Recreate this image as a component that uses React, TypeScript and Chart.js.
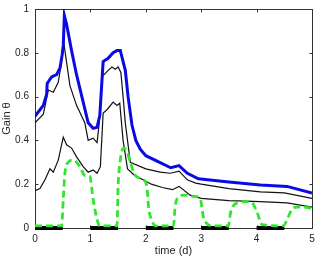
import React, { useEffect, useRef } from "react";
import { Chart, registerables } from "chart.js";

Chart.register(...registerables);

// Upper gain estimate (thick blue)
const upperTime = [0, 0.15, 0.21, 0.22, 0.3, 0.39, 0.45, 0.49, 0.51, 0.53, 0.57, 0.66, 0.75, 0.87, 0.96, 1.05, 1.12, 1.17, 1.23, 1.32, 1.41, 1.48, 1.54, 1.57, 1.63, 1.68, 1.75, 1.82, 1.9, 2.0, 2.25, 2.45, 2.6, 2.75, 2.95, 3.5, 4.07, 4.55, 5.0];
const upperGain = [0.51, 0.56, 0.61, 0.66, 0.69, 0.70, 0.73, 0.79, 0.835, 0.97, 0.93, 0.81, 0.70, 0.575, 0.48, 0.455, 0.46, 0.515, 0.76, 0.775, 0.80, 0.81, 0.81, 0.78, 0.72, 0.60, 0.47, 0.40, 0.36, 0.33, 0.30, 0.275, 0.285, 0.25, 0.225, 0.21, 0.196, 0.19, 0.16];

// Band upper bound (thin black)
const bandHighTime = [0, 0.15, 0.24, 0.33, 0.42, 0.48, 0.52, 0.63, 0.75, 0.9, 0.96, 1.05, 1.12, 1.16, 1.21, 1.32, 1.39, 1.45, 1.5, 1.55, 1.59, 1.63, 1.72, 2.0, 2.26, 2.44, 2.6, 2.75, 2.9, 3.0, 3.5, 4.07, 4.5, 5.0];
const bandHighGain = [0.48, 0.52, 0.63, 0.62, 0.665, 0.76, 0.845, 0.65, 0.56, 0.48, 0.40, 0.41, 0.39, 0.48, 0.69, 0.72, 0.735, 0.725, 0.735, 0.71, 0.60, 0.48, 0.30, 0.27, 0.255, 0.25, 0.26, 0.22, 0.205, 0.20, 0.18, 0.165, 0.16, 0.135];

// Band lower bound (thin black)
const bandLowTime = [0, 0.09, 0.18, 0.27, 0.33, 0.42, 0.51, 0.57, 0.66, 0.75, 0.87, 0.96, 1.05, 1.12, 1.18, 1.23, 1.3, 1.41, 1.48, 1.53, 1.59, 1.67, 1.8, 1.95, 2.1, 2.3, 2.48, 2.6, 2.8, 3.0, 3.5, 4.07, 4.55, 5.0];
const bandLowGain = [0.17, 0.18, 0.22, 0.27, 0.255, 0.31, 0.415, 0.38, 0.365, 0.325, 0.28, 0.255, 0.265, 0.25, 0.28, 0.525, 0.54, 0.575, 0.56, 0.57, 0.40, 0.27, 0.24, 0.22, 0.20, 0.185, 0.175, 0.19, 0.15, 0.135, 0.125, 0.12, 0.115, 0.095];

// Daytime gain (green dashed)
const dayTime = [0, 0.48, 0.51, 0.54, 0.6, 0.69, 0.81, 0.9, 0.99, 1.05, 1.12, 1.17, 1.48, 1.5, 1.54, 1.6, 1.66, 1.72, 1.81, 1.96, 2.02, 2.05, 2.11, 2.17, 2.5, 2.53, 2.59, 2.68, 2.86, 2.98, 3.04, 3.13, 3.2, 3.49, 3.53, 3.65, 3.83, 3.92, 4.01, 4.1, 4.48, 4.57, 4.65, 4.73, 4.85, 5.0];
const dayGain = [0.01, 0.01, 0.13, 0.25, 0.30, 0.31, 0.28, 0.24, 0.235, 0.13, 0.04, 0.01, 0.01, 0.19, 0.31, 0.365, 0.35, 0.30, 0.24, 0.22, 0.19, 0.095, 0.035, 0.01, 0.01, 0.10, 0.14, 0.15, 0.145, 0.135, 0.05, 0.015, 0.01, 0.01, 0.07, 0.115, 0.12, 0.115, 0.07, 0.015, 0.01, 0.05, 0.09, 0.095, 0.095, 0.09];

// Night periods marked along the time axis
const nightStart = [0, 1, 2, 3, 4];
const nightEnd = [0.5, 1.5, 2.5, 3.5, 4.5];

const xTicks = [0, 1, 2, 3, 4, 5];
const yTicks = [0, 0.2, 0.4, 0.6, 0.8, 1];

const FONT = "'Liberation Sans', Arial, Helvetica, sans-serif";

const zip = (t: number[], v: number[]) => t.map((x, i) => ({ x, y: v[i] }));

const nightPoints = () => {
  const pts: { x: number; y: number | null }[] = [];
  nightStart.forEach((s, i) => {
    pts.push({ x: s, y: 0 }, { x: nightEnd[i], y: 0 }, { x: nightEnd[i], y: null });
  });
  return pts;
};

// Box frame with inward tick marks on all four sides
const framePlugin = {
  id: "frame",
  beforeDatasetsDraw(chart: any) {
    const { ctx, chartArea: a, scales } = chart;
    const L = Math.round(a.left) + 0.5;
    const R = Math.round(a.right) + 0.5;
    const T = Math.round(a.top) + 0.5;
    const B = Math.round(a.bottom) + 0.5;
    ctx.save();
    ctx.strokeStyle = "#333";
    ctx.lineWidth = 1;
    ctx.strokeRect(L, T, R - L, B - T);
    const len = 3;
    ctx.beginPath();
    xTicks.forEach((v) => {
      const px = Math.round(scales.x.getPixelForValue(v)) + 0.5;
      ctx.moveTo(px, B);
      ctx.lineTo(px, B - len);
      ctx.moveTo(px, T);
      ctx.lineTo(px, T + len);
    });
    yTicks.forEach((v) => {
      const py = Math.round(scales.y.getPixelForValue(v)) + 0.5;
      ctx.moveTo(L, py);
      ctx.lineTo(L + len, py);
      ctx.moveTo(R, py);
      ctx.lineTo(R - len, py);
    });
    ctx.stroke();
    ctx.restore();
  },
};

export default function App() {
  const ref = useRef<HTMLCanvasElement | null>(null);

  useEffect(() => {
    document.body.style.margin = "0";
    const canvas = ref.current;
    if (!canvas) return;
    const chart = new Chart(canvas, {
      type: "line",
      data: {
        datasets: [
          {
            data: nightPoints() as any,
            borderColor: "#000",
            borderWidth: 4,
            borderCapStyle: "butt",
            spanGaps: false,
            pointRadius: 0,
            order: 2,
            clip: false as any,
          },
          {
            data: zip(dayTime, dayGain),
            borderColor: "#2ee62e",
            borderWidth: 2.8,
            borderDash: [7, 4],
            pointRadius: 0,
            cubicInterpolationMode: "monotone",
            order: 1,
            clip: false as any,
          },
          {
            data: zip(bandLowTime, bandLowGain),
            borderColor: "#111",
            borderWidth: 1.2,
            pointRadius: 0,
            order: 4,
          },
          {
            data: zip(bandHighTime, bandHighGain),
            borderColor: "#111",
            borderWidth: 1.2,
            pointRadius: 0,
            order: 3,
          },
          {
            data: zip(upperTime, upperGain),
            borderColor: "#0a0ae6",
            borderWidth: 3,
            pointRadius: 0,
            order: 0,
          },
        ],
      },
      options: {
        responsive: false,
        devicePixelRatio: 1,
        animation: false,
        events: [],
        layout: { padding: { top: 9, right: 4, left: 0, bottom: 0 } },
        plugins: { legend: { display: false }, tooltip: { enabled: false } },
        scales: {
          x: {
            type: "linear",
            min: 0,
            max: 5,
            afterFit: (s: any) => {
              s.height = 28;
              s.paddingLeft = 0;
              s.paddingRight = 0;
            },
            afterBuildTicks: (s: any) => {
              s.ticks = xTicks.map((v) => ({ value: v }));
            },
            grid: { display: false, drawTicks: false, tickLength: 0 },
            border: { display: false },
            ticks: {
              padding: 5,
              color: "#222",
              font: { family: FONT, size: 10 },
              maxRotation: 0,
              callback: (v: any) => String(v),
            },
            title: {
              display: true,
              text: "time (d)",
              color: "#222",
              font: { family: FONT, size: 11 },
              padding: { top: 0, bottom: -2 },
            },
          },
          y: {
            type: "linear",
            min: 0,
            max: 1,
            afterFit: (s: any) => {
              s.width = 35;
              s.paddingTop = 0;
              s.paddingBottom = 0;
            },
            afterBuildTicks: (s: any) => {
              s.ticks = yTicks.map((v) => ({ value: v }));
            },
            grid: { display: false, drawTicks: false, tickLength: 0 },
            border: { display: false },
            ticks: {
              padding: 6,
              color: "#222",
              font: { family: FONT, size: 10 },
              callback: (v: any) => String(Math.round(v * 10) / 10),
            },
            title: {
              display: true,
              text: "Gain θ",
              color: "#222",
              font: { family: FONT, size: 11 },
              padding: { top: 0, bottom: 0 },
            },
          },
        },
      },
      plugins: [framePlugin],
    });
    return () => chart.destroy();
  }, []);

  return (
    <div style={{ position: "absolute", left: 0, top: 0, width: 316, height: 256, background: "#fff" }}>
      <canvas ref={ref} width={316} height={256} />
    </div>
  );
}
